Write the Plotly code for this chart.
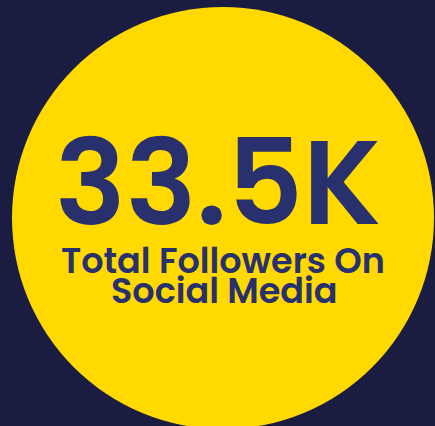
import plotly.graph_objects as go

# Data
metric_value = ["33.5K"]
metric_label_lines = ["Total Followers On", "Social Media"]

W, H = 435, 426
BG = "#1a1c42"
YELLOW = "#ffd900"
NAVY = "#28306d"
FONT = "Poppins, Inter, 'Open Sans', sans-serif"

fig = go.Figure()
fig.add_trace(go.Scatter(x=[0, W], y=[0, H], mode="markers", marker=dict(opacity=0), hoverinfo="skip", showlegend=False))

fig.add_shape(type="circle", xref="x", yref="y", x0=12, x1=434, y0=H - 429, y1=H - 7,
              fillcolor=YELLOW, line=dict(width=0), layer="below")

fig.add_annotation(x=218, y=H - 182, xref="x", yref="y", text=metric_value[0], showarrow=False,
                   font=dict(family=FONT, size=118, color=NAVY, weight=600), xanchor="center", yanchor="middle")
fig.add_annotation(x=223, y=H - 260, xref="x", yref="y", text=metric_label_lines[0], showarrow=False,
                   font=dict(family=FONT, size=35, color=NAVY, weight=600), xanchor="center", yanchor="middle")
fig.add_annotation(x=224, y=H - 290, xref="x", yref="y", text=metric_label_lines[1], showarrow=False,
                   font=dict(family=FONT, size=35, color=NAVY, weight=600), xanchor="center", yanchor="middle")

fig.update_layout(
    width=W, height=H, margin=dict(l=0, r=0, t=0, b=0),
    paper_bgcolor=BG, plot_bgcolor=BG,
    xaxis=dict(range=[0, W], visible=False, fixedrange=True),
    yaxis=dict(range=[0, H], visible=False, fixedrange=True),
    showlegend=False,
)
fig.write_html("out.html", config={"displayModeBar": False},
               post_script="document.body.style.margin='0';document.body.style.background='%s';" % BG)
